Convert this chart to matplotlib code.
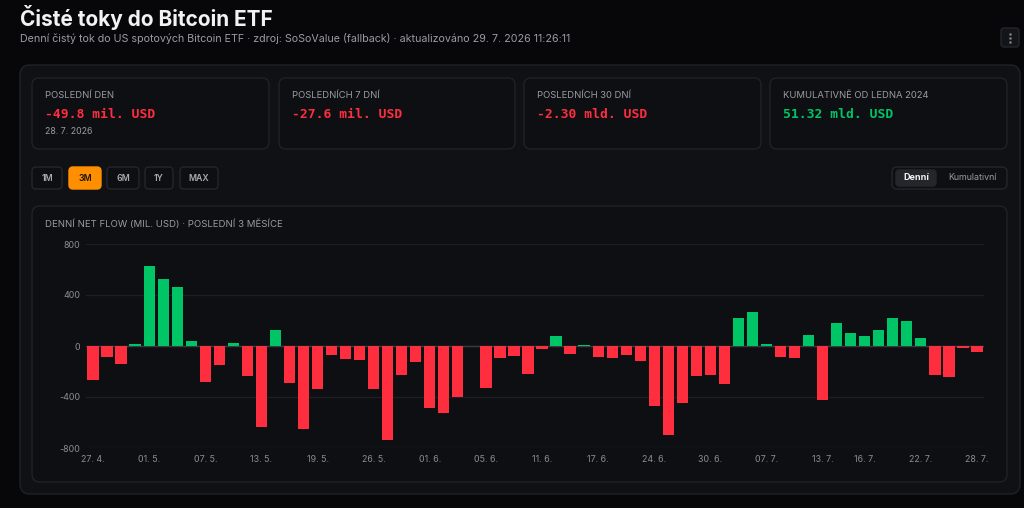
import matplotlib
matplotlib.use("Agg")
import matplotlib.pyplot as plt
from matplotlib.patches import FancyBboxPatch

# ---------------- data ----------------
dates = ["27. 4.", "28. 4.", "29. 4.", "30. 4.", "01. 5.", "04. 5.", "05. 5.", "06. 5.", "07. 5.", "08. 5.",
         "11. 5.", "12. 5.", "13. 5.", "14. 5.", "15. 5.", "18. 5.", "19. 5.", "20. 5.", "21. 5.", "22. 5.",
         "26. 5.", "27. 5.", "28. 5.", "29. 5.", "01. 6.", "02. 6.", "03. 6.", "04. 6.", "05. 6.", "08. 6.",
         "09. 6.", "10. 6.", "11. 6.", "12. 6.", "15. 6.", "16. 6.", "17. 6.", "18. 6.", "22. 6.", "23. 6.",
         "24. 6.", "25. 6.", "26. 6.", "29. 6.", "30. 6.", "01. 7.", "02. 7.", "06. 7.", "07. 7.", "08. 7.",
         "09. 7.", "10. 7.", "13. 7.", "14. 7.", "15. 7.", "16. 7.", "17. 7.", "20. 7.", "21. 7.", "22. 7.",
         "23. 7.", "24. 7.", "27. 7.", "28. 7."]
flows = [-264, -89, -138, 13, 626, 527, 462, 42, -279, -146,
         23, -235, -637, 128, -292, -650, -334, -73, -102, -107,
         -337, -736, -230, -128, -485, -522, -397, 3, -326, -91,
         -78, -217, -21, 81, -65, 8, -84, -91, -70, -115,
         -470, -700, -446, -232, -224, -295, 219, 264, 18, -86,
         -97, 86, -425, 177, 104, 76, 128, 222, 198, 65,
         -227, -240, -13, -49.8]
tick_labels = ["27. 4.", "01. 5.", "07. 5.", "13. 5.", "19. 5.", "26. 5.", "01. 6.", "05. 6.", "11. 6.",
               "17. 6.", "24. 6.", "30. 6.", "07. 7.", "13. 7.", "16. 7.", "22. 7.", "28. 7."]
y_ticks = [-800, -400, 0, 400, 800]

card_labels = ["POSLEDNÍ DEN", "POSLEDNÍCH 7 DNÍ", "POSLEDNÍCH 30 DNÍ", "KUMULATIVNĚ OD LEDNA 2024"]
card_values = ["-49.8 mil. USD", "-27.6 mil. USD", "-2.30 mld. USD", "51.32 mld. USD"]
card_positive = [False, False, False, True]
range_buttons = ["1M", "3M", "6M", "1Y", "MAX"]
active_range = "3M"

# ---------------- style ----------------
BG = "#07070a"
PANEL = "#101115"
BORDER = "#202227"
TXT = "#f2f2f4"
MUTED = "#9a9ca3"
RED = "#ff2e3e"
GREEN = "#00c566"
ORANGE = "#ff8f00"

W, H = 1024, 508
fig = plt.figure(figsize=(W / 100, H / 100), dpi=100, facecolor=BG)

# overlay in pixel coords
ov = fig.add_axes([0, 0, 1, 1])
ov.set_xlim(0, W)
ov.set_ylim(H, 0)
ov.axis("off")
ov.set_zorder(0)


def box(x0, y0, x1, y1, fc, ec, r=8, lw=1.0):
    p = FancyBboxPatch((x0 + r, y0 + r), (x1 - x0) - 2 * r, (y1 - y0) - 2 * r,
                       boxstyle=f"round,pad={r}", fc=fc, ec=ec, lw=lw)
    ov.add_patch(p)


# title
ov.text(20, 17, "Čisté toky do Bitcoin ETF", fontsize=15, fontweight="bold", color=TXT,
        family="Inter", va="center", ha="left")
ov.text(20, 39, "Denní čistý tok do US spotových Bitcoin ETF · zdroj: SoSoValue (fallback) · aktualizováno 29. 7. 2026 11:26:11",
        fontsize=7.7, color=MUTED, family="Inter", va="center", ha="left")

# menu button
box(1001, 28, 1019, 47, "#141519", "#24262b", r=3)
for dy in (-4, 0, 4):
    ov.plot([1010], [37.5 + dy], marker="s", ms=1.6, color="#9a9ca3", mec="none")

# main panel
box(20, 65, 1020, 494, PANEL, BORDER, r=10)

# cards
card_x = [(32, 269), (279, 515), (524, 761), (770, 1007)]
for (x0, x1), lab, val, pos in zip(card_x, card_labels, card_values, card_positive):
    box(x0, 78, x1, 149, "#0e0f13", BORDER, r=7)
    ov.text(x0 + 13, 95, lab, fontsize=6.8, color=MUTED, family="Inter", va="center", ha="left")
    ov.text(x0 + 13, 114, val, fontsize=9.4, color=GREEN if pos else RED, family="DejaVu Sans Mono",
            fontweight="bold", va="center", ha="left")
ov.text(45, 131, "28. 7. 2026", fontsize=6.3, color=MUTED, family="Inter", va="center", ha="left")

# range buttons
btn_x = [(32, 62), (69, 101), (107, 139), (145, 173), (180, 218)]
for (x0, x1), lab in zip(btn_x, range_buttons):
    active = lab == active_range
    box(x0, 167, x1, 189, ORANGE if active else "#0e0f13", ORANGE if active else "#24262b", r=4)
    ov.text((x0 + x1) / 2, 178.5, lab, fontsize=6.3, fontweight="semibold",
            color="#1a1208" if active else "#a8aab0", family="Inter", va="center", ha="center")

# toggle
box(892, 167, 1007, 189, "#0e0f13", "#24262b", r=5)
box(896, 170, 936, 186, "#24262c", "#24262c", r=3)
ov.text(916, 178, "Denní", fontsize=6.5, fontweight="bold", color=TXT, family="Inter", va="center", ha="center")
ov.text(972, 178, "Kumulativní", fontsize=6.4, color=MUTED, family="Inter", va="center", ha="center")

# chart card
box(32, 206, 1007, 482, "#0e0f13", BORDER, r=8)
ov.text(45, 224, "DENNÍ NET FLOW (MIL. USD) · POSLEDNÍ 3 MĚSÍCE", fontsize=6.9, color=MUTED,
        family="Inter", va="center", ha="left")

# ---------------- chart ----------------
ax_l, ax_r, ax_t, ax_b = 86, 984, 244, 448
ax = fig.add_axes([ax_l / W, (H - ax_b) / H, (ax_r - ax_l) / W, (ax_b - ax_t) / H])
ax.set_zorder(2)
ax.patch.set_alpha(0)

idx = list(range(len(dates)))
colors = [GREEN if v >= 0 else RED for v in flows]
ax.bar(idx, flows, width=0.8, color=colors, zorder=3)

ax.set_xlim(-0.5, len(dates) - 0.5)
ax.set_ylim(-800, 800)
ax.set_yticks(y_ticks)
ax.set_yticklabels([str(v) for v in y_ticks])
ax.yaxis.grid(True, color="#1e1f24", lw=0.9, zorder=0)
ax.axhline(0, color="#3a3b41", lw=1.0, zorder=2)

tick_pos = [dates.index(t) for t in tick_labels]
ax.set_xticks(tick_pos)
ax.set_xticklabels(tick_labels)

for s in ax.spines.values():
    s.set_visible(False)
ax.tick_params(axis="both", length=0, colors="#8b8d93", labelsize=6.4)
ax.tick_params(axis="y", pad=4)
ax.tick_params(axis="x", pad=5)
for t in ax.get_xticklabels() + ax.get_yticklabels():
    t.set_family("Inter")

fig.savefig("out.png", dpi=100, facecolor=BG)
